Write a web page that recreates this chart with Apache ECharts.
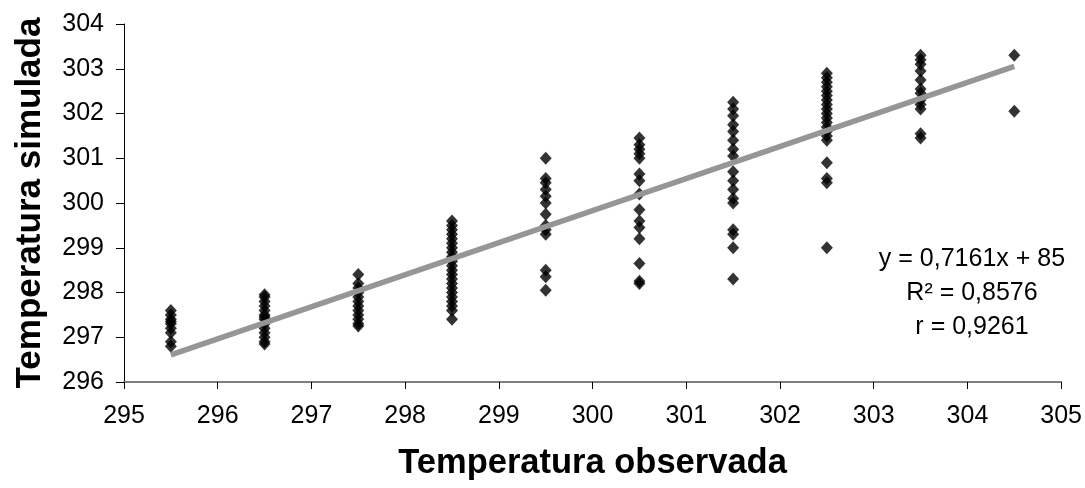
<!DOCTYPE html>
<html>
<head>
<meta charset="utf-8">
<script src="https://cdn.jsdelivr.net/npm/echarts@6/dist/echarts.min.js"></script>
<style>
  html, body { margin: 0; padding: 0; background: #ffffff; }
  #chart { width: 1085px; height: 488px; }
</style>
</head>
<body>
<div id="chart"></div>
<script>
// Observed temperature classes (x) and the simulated values recorded for each one (y)
const observed = [295.5, 296.5, 297.5, 298.5, 299.5, 300.5, 301.5, 302.5, 303.5, 304.5];
const sim2955 = [297.6, 297.5, 297.4, 297.35, 297.3, 297.2, 297.1, 296.9, 296.8];
const sim2965 = [297.95, 297.9, 297.8, 297.7, 297.6, 297.5, 297.45, 297.4, 297.3, 297.2, 297.1, 297.0, 296.9, 296.85];
const sim2975 = [298.4, 298.2, 298.1, 298.0, 297.9, 297.8, 297.7, 297.6, 297.5, 297.4, 297.3, 297.25];
const sim2985 = [299.6, 299.5, 299.4, 299.3, 299.2, 299.1, 299.0, 298.9, 298.8, 298.7, 298.6, 298.5, 298.4, 298.3, 298.2, 298.1, 298.0, 297.9, 297.8, 297.7, 297.6, 297.4];
const sim2995 = [301.0, 300.55, 300.45, 300.3, 300.15, 300.0, 299.75, 299.5, 299.4, 299.3, 298.5, 298.35, 298.05];
const sim3005 = [301.45, 301.3, 301.2, 301.1, 301.0, 300.65, 300.5, 300.2, 299.85, 299.6, 299.45, 299.2, 298.65, 298.25, 298.2];
const sim3015 = [302.25, 302.1, 301.95, 301.75, 301.6, 301.4, 301.2, 301.05, 300.7, 300.5, 300.3, 300.1, 300.0, 299.4, 299.3, 299.0, 298.3];
const sim3025 = [302.9, 302.8, 302.7, 302.6, 302.5, 302.4, 302.3, 302.2, 302.1, 302.0, 301.9, 301.8, 301.7, 301.6, 301.5, 301.4, 300.9, 300.55, 300.45, 299.0];
const sim3035 = [303.3, 303.2, 303.1, 302.95, 302.75, 302.55, 302.45, 302.3, 302.2, 302.1, 301.55, 301.45];
const sim3045 = [303.3, 302.05];
const simulated = [sim2955, sim2965, sim2975, sim2985, sim2995, sim3005, sim3015, sim3025, sim3035, sim3045];

// Linear fit reported in the chart
const slope = 0.7161;
const intercept = 85;
const fitLabels = ['y = 0,7161x + 85', 'R² = 0,8576', 'r = 0,9261'];

// Axis ranges and titles
const xTitle = 'Temperatura observada';
const yTitle = 'Temperatura simulada';
const xMin = 295, xMax = 305;
const yMin = 296, yMax = 304;

const points = [];
observed.forEach((x, i) => simulated[i].forEach(y => points.push([x, y])));

const xStart = observed[0], xEnd = observed[observed.length - 1];
const fitLine = [[xStart, slope * xStart + intercept], [xEnd, slope * xEnd + intercept]];

const font = '"Liberation Sans", Arial, sans-serif';
const chart = echarts.init(document.getElementById('chart'), null, { renderer: 'canvas' });

chart.setOption({
  animation: false,
  backgroundColor: '#ffffff',
  grid: { left: 124, right: 20, top: 24, bottom: 106, containLabel: false },
  xAxis: {
    type: 'value',
    min: xMin, max: xMax, interval: 1,
    name: xTitle,
    nameLocation: 'middle',
    nameGap: 64,
    nameTextStyle: { fontFamily: font, fontSize: 34.5, fontWeight: 'bold', color: '#000' },
    axisLine: { onZero: false, lineStyle: { color: '#808080', width: 2 } },
    axisTick: { show: true, inside: false, length: 7, lineStyle: { color: '#000', width: 1 } },
    axisLabel: { fontFamily: font, fontSize: 25, color: '#000', margin: 22 },
    splitLine: { show: false }
  },
  yAxis: {
    type: 'value',
    min: yMin, max: yMax, interval: 1,
    name: yTitle,
    nameLocation: 'middle',
    nameGap: 76,
    nameRotate: 90,
    nameTextStyle: { fontFamily: font, fontSize: 35, fontWeight: 'bold', color: '#000' },
    axisLine: { onZero: false, lineStyle: { color: '#000', width: 1 } },
    axisTick: { show: true, inside: false, length: 8, lineStyle: { color: '#000', width: 1 } },
    axisLabel: { fontFamily: font, fontSize: 25, color: '#000', margin: 20 },
    splitLine: { show: false }
  },
  series: [
    {
      type: 'scatter',
      data: points,
      symbol: 'diamond',
      symbolSize: [12, 13],
      itemStyle: { color: '#000' },
      z: 2
    },
    {
      type: 'line',
      data: fitLine,
      symbol: 'none',
      lineStyle: { color: '#969696', width: 5.5 },
      z: 3
    }
  ],
  graphic: fitLabels.map((t, i) => ({
    type: 'text',
    x: 972,
    y: 259 + i * 34,
    style: {
      text: t,
      fontFamily: font,
      fontSize: 25,
      fill: '#000',
      textAlign: 'center',
      textVerticalAlign: 'middle'
    }
  }))
});
</script>
</body>
</html>
